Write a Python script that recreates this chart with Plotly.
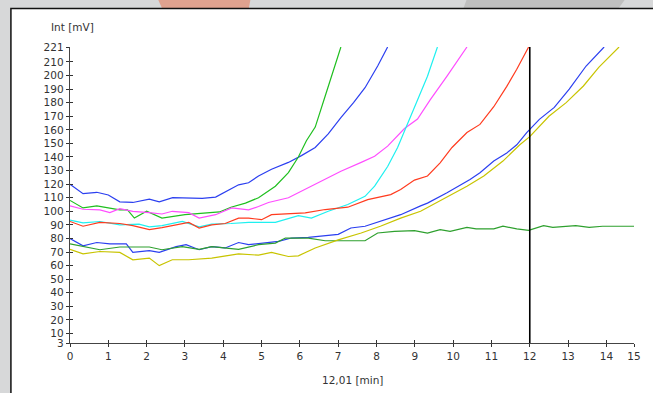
import plotly.graph_objects as go

# ---------------- data ----------------
s1_x = [0, 0.34, 0.7, 1.0, 1.3, 1.64, 2.07, 2.33, 2.68, 3.0, 3.45, 3.8, 4.15, 4.4, 4.66, 4.92, 5.26, 5.7, 6.04, 6.4, 6.74, 7.07, 7.4, 7.7, 8.03, 8.29]
s1_y = [120, 113, 114, 112, 107, 106.5, 109, 107, 110, 110, 109.5, 110.5, 116, 119.5, 121, 126, 131, 136, 141, 147, 157, 169, 180, 191, 207, 221]

s2_x = [0, 0.34, 0.7, 1.3, 1.5, 1.68, 2.0, 2.4, 3.0, 3.55, 3.9, 4.2, 4.58, 4.92, 5.36, 5.7, 5.96, 6.17, 6.4, 6.65, 6.9, 7.07]
s2_y = [108, 102.5, 104, 101, 101, 95, 100, 95, 97.5, 99, 99.5, 103, 106, 110, 118.5, 128.5, 140, 152, 162, 184, 207, 221]

s3_x = [0, 0.34, 0.78, 1.04, 1.3, 1.64, 2.07, 2.4, 2.67, 3.1, 3.37, 3.8, 4.22, 4.66, 4.92, 5.18, 5.7, 6.4, 7.07, 7.6, 7.95, 8.29, 8.73, 9.07, 9.4, 9.84, 10.36]
s3_y = [104, 101.5, 101, 99, 102, 100, 99, 98, 100, 99, 95, 97.5, 102.5, 101, 103.5, 106.5, 110, 120, 129.5, 136, 140.5, 148, 161, 168, 182, 199.5, 221]

s4_x = [0, 0.34, 0.78, 1.3, 1.8, 2.07, 2.4, 2.93, 3.37, 3.7, 4.2, 4.66, 5.36, 5.96, 6.3, 6.74, 7.25, 7.7, 7.95, 8.29, 8.55, 8.89, 9.33, 9.59]
s4_y = [93.5, 91.5, 92.5, 90, 90.5, 88.5, 89.5, 92.5, 88.5, 90.5, 91, 91.8, 91.8, 96.8, 95, 100, 105, 111, 118.5, 133, 147, 170, 199.5, 221]

s5_x = [0, 0.34, 0.78, 1.3, 1.64, 2.07, 2.4, 3.1, 3.37, 3.7, 4.05, 4.4, 4.66, 5.0, 5.26, 6.14, 6.66, 7.25, 7.77, 8.37, 8.63, 8.99, 9.33, 9.66, 9.97, 10.36, 10.7, 11.06, 11.4, 11.66, 11.97]
s5_y = [92.5, 89, 91.8, 91, 89.4, 86.5, 88, 91.8, 87.7, 90, 91, 95, 95, 93.8, 97.5, 98.8, 101.3, 103, 108.6, 112.3, 116, 123, 126, 135.7, 147, 158, 164, 177, 192, 204.6, 221]

s6_x = [0, 0.34, 0.7, 1.04, 1.47, 1.64, 2.07, 2.33, 2.77, 3.03, 3.37, 3.7, 4.05, 4.4, 4.66, 5.44, 5.78, 6.22, 7.0, 7.33, 7.7, 8.1, 8.63, 9.15, 9.33, 9.84, 10.44, 10.7, 11.06, 11.4, 11.66, 11.92, 12.25, 12.64, 13.03, 13.47, 13.94]
s6_y = [80, 74.6, 77, 76, 76, 69.7, 71, 69.7, 74, 75.4, 71.7, 74, 73, 77, 75.4, 77.8, 80.3, 80.8, 83, 87.7, 89, 92.6, 97.5, 104, 106, 113.6, 123.4, 128.4, 137, 143, 149, 158, 167.7, 176.5, 190, 207, 221]

s7_x = [0, 0.34, 0.78, 1.3, 2.07, 2.4, 2.93, 3.37, 3.7, 4.4, 4.92, 5.36, 5.62, 6.22, 6.66, 7.7, 8.03, 8.47, 8.99, 9.33, 9.66, 9.92, 10.36, 10.6, 11.06, 11.3, 11.66, 11.97, 12.36, 12.6, 13.2, 13.55, 13.9, 14.72]
s7_y = [76, 74, 71.7, 73.7, 73.7, 71.7, 74, 72, 74, 72, 75.4, 76.6, 80.3, 80.3, 78.3, 78.3, 84, 85.2, 85.7, 84, 86.5, 85.2, 88.2, 87, 87, 89, 87, 86, 89.4, 88.2, 89.4, 88.2, 89, 89]

s8_x = [0, 0.34, 0.78, 1.3, 1.64, 2.07, 2.33, 2.67, 3.1, 3.7, 4.4, 4.92, 5.26, 5.7, 5.96, 6.4, 7.0, 7.6, 8.1, 8.63, 9.15, 9.84, 10.36, 10.8, 11.3, 11.74, 12.0, 12.5, 12.95, 13.4, 13.8, 14.33]
s8_y = [72, 68.7, 70.4, 69.7, 64.3, 65.5, 60, 64.3, 64.3, 65.5, 68.7, 67.7, 69.7, 66.7, 67.2, 73, 79, 84, 89, 95, 100, 110.5, 118.5, 126, 137, 149, 155, 170, 180, 192.3, 206, 221]

x_tickvals = [0, 1, 2, 3, 4, 5, 6, 7, 8, 9, 10, 11, 12, 13, 14, 14.72]
x_ticktext = ["0", "1", "2", "3", "4", "5", "6", "7", "8", "9", "10", "11", "12", "13", "14", "15"]
y_tickvals = [3, 10, 20, 30, 40, 50, 60, 70, 80, 90, 100, 110, 120, 130, 140, 150, 160, 170, 180, 190, 200, 210, 221]
y_ticktext = [str(v) for v in y_tickvals]
x_range = [0, 14.72]
y_range = [3, 221]
cursor_x = 12
x_title = "12,01 [min]"
y_title = "Int [mV]"

series = [
    (s1_x, s1_y, "#2b3ff0"),
    (s2_x, s2_y, "#1fbf1f"),
    (s3_x, s3_y, "#ff4dff"),
    (s4_x, s4_y, "#1ff0f0"),
    (s5_x, s5_y, "#ff3b1f"),
    (s6_x, s6_y, "#2b3ff0"),
    (s7_x, s7_y, "#2ea02e"),
    (s8_x, s8_y, "#c8c400"),
]

# ---------------- layout geometry ----------------
W, H = 653, 393
L, R, T, B = 70, 638, 47, 343
PW, PH = R - L, B - T

def px(xp):
    return (xp - L) / PW

def py(yp):
    return (B - yp) / PH

FONT = "DejaVu Sans, Verdana, sans-serif"

fig = go.Figure()
for xs, ys, col in series:
    fig.add_trace(go.Scatter(x=xs, y=ys, mode="lines",
                             line=dict(color=col, width=1.2),
                             showlegend=False, hoverinfo="skip"))

shapes = []
# decorative top strip
shapes.append(dict(type="path", xref="paper", yref="paper", layer="below",
                   path=f"M {px(158)} {py(-2)} L {px(252)} {py(-2)} L {px(250)} {py(9)} L {px(163)} {py(9)} Z",
                   fillcolor="#e0a28f", line=dict(width=0)))
shapes.append(dict(type="path", xref="paper", yref="paper", layer="below",
                   path=f"M {px(470)} {py(-2)} L {px(630)} {py(-2)} L {px(622)} {py(9)} L {px(466)} {py(9)} Z",
                   fillcolor="#bfbfbf", line=dict(width=0)))
# white panel
shapes.append(dict(type="rect", xref="paper", yref="paper", layer="below",
                   x0=px(10.5), y0=py(8.5), x1=px(720), y1=py(460),
                   fillcolor="white", line=dict(color="#111111", width=1.5)))
# cursor line
shapes.append(dict(type="line", xref="x", yref="paper", x0=cursor_x, x1=cursor_x, y0=0, y1=1,
                   line=dict(color="black", width=1.6)))

axis_common = dict(showgrid=False, zeroline=False, tickcolor="#333333",
                   tickfont=dict(family=FONT, size=10.5, color="#333333"))

fig.update_layout(
    width=W, height=H,
    margin=dict(l=L, r=W - R, t=T, b=H - B),
    paper_bgcolor="#d7d8d9",
    plot_bgcolor="rgba(0,0,0,0)",
    shapes=shapes,
    xaxis=dict(range=x_range, tickmode="array", tickvals=x_tickvals, ticktext=x_ticktext,
               ticks="outside", ticklen=3, tickwidth=1, showline=True, linecolor="#444444",
               linewidth=1.3, **axis_common),
    yaxis=dict(range=y_range, tickmode="array", tickvals=y_tickvals, ticktext=y_ticktext,
               ticks="outside", ticklen=3, tickwidth=1, showline=True, linecolor="#444444",
               linewidth=1.3, **axis_common),
    xaxis2=dict(range=x_range, overlaying="x", anchor="y2", tickmode="array", tickvals=x_tickvals,
                ticks="inside", ticklen=3, tickwidth=1, showticklabels=False, showline=False,
                showgrid=False, zeroline=False, tickcolor="#333333", side="bottom"),
    yaxis2=dict(range=y_range, overlaying="y", anchor="x2", tickmode="array", tickvals=y_tickvals,
                ticks="inside", ticklen=3, tickwidth=1, showticklabels=False, showline=False,
                showgrid=False, zeroline=False, tickcolor="#333333", side="left"),
    annotations=[
        dict(text=y_title, xref="paper", yref="paper", x=px(49), y=py(27), xanchor="left",
             yanchor="middle", showarrow=False, font=dict(family=FONT, size=10.5, color="#333333")),
        dict(text=x_title, xref="paper", yref="paper", x=0.5, y=py(380), xanchor="center",
             yanchor="middle", showarrow=False, font=dict(family=FONT, size=10.5, color="#333333")),
    ],
)
fig.add_trace(go.Scatter(x=[None], y=[None], xaxis="x2", yaxis="y2", showlegend=False, hoverinfo="skip"))

fig.write_html("out.html",
               config={"displayModeBar": False, "staticPlot": True},
               post_script="document.body.style.margin='0';document.body.style.overflow='hidden';document.body.style.background='#d7d8d9';")
